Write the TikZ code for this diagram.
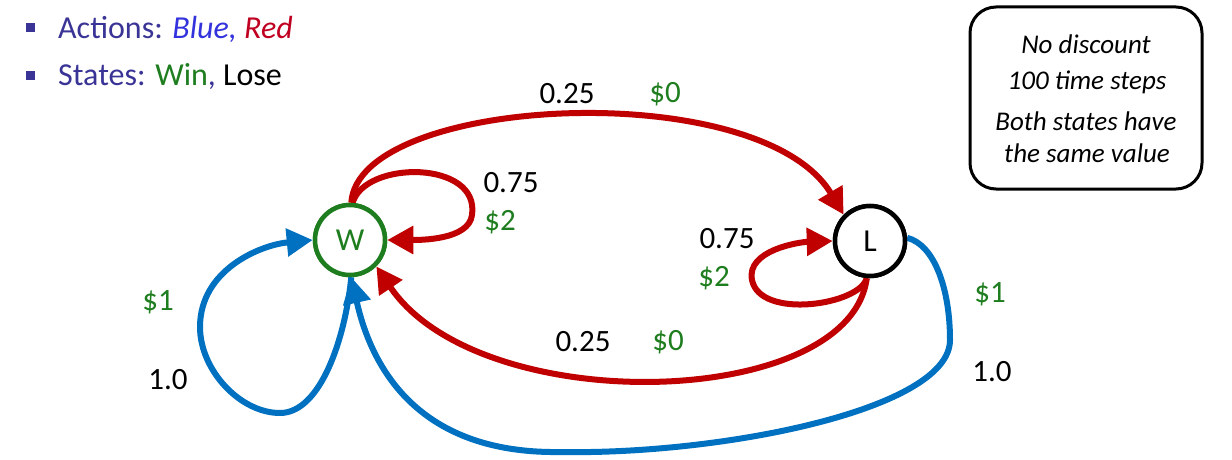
\documentclass[tikz,border=0pt]{standalone}
\usepackage{fontspec}
\setmainfont{Carlito}
\usetikzlibrary{arrows.meta}
\definecolor{rd}{RGB}{192,0,0}
\definecolor{bl}{RGB}{0,112,192}
\definecolor{gr}{RGB}{30,125,30}
\definecolor{pu}{RGB}{58,52,150}
\definecolor{itblue}{RGB}{51,51,221}
\definecolor{itred}{RGB}{192,0,32}
\begin{document}
\begin{tikzpicture}[x=1pt,y=-1pt,
  state/.style={circle, minimum size=70pt, inner sep=0pt, line width=4.5pt, fill=white, font=\fontsize{32}{34}\selectfont},
  lbl/.style={inner sep=0pt, font=\fontsize{31}{33}\selectfont},
  note/.style={inner sep=0pt, font=\fontsize{27}{29}\selectfont\itshape},
  bullettext/.style={inner sep=0pt, anchor=base west, font=\fontsize{32}{34}\selectfont, text=pu},
  redarrow/.style={draw=rd, line width=6pt, -{Triangle[length=26pt,width=27pt]}},
  bluearrow/.style={draw=bl, line width=6pt, -{Triangle[length=26pt,width=27pt]}},
  bulletsq/.style={fill=pu, minimum size=9pt, inner sep=0pt}]
\useasboundingbox (0,0) rectangle (1232,460);

% bullets
\node[bulletsq] (b1) at (30,28) {};
\node[bulletsq] (b2) at (30,76) {};
\node[bullettext] (t1) at (58,39) {Actions: \textcolor{itblue}{\itshape Blue,} \textcolor{itred}{\itshape Red}};
\node[bullettext] (t2) at (58,85) {States: \textcolor{gr}{Win}, \textcolor{black}{Lose}};

% note box
\draw[line width=3pt, rounded corners=26pt] (970,7) rectangle (1202,189);
\node[note] (n1) at (1086,44) {No discount};
\node[note] (n2) at (1087,82) {100 time steps};
\node[note] (n3) at (1086,121) {Both states have};
\node[note] (n4) at (1087,153) {the same value};

% states
\node[state, draw=gr, text=gr] (W) at (350,240) {W};
\node[state, draw=black] (L) at (870,241) {L};

% blue self loop W
\draw[bluearrow] (W.-88) .. controls (345,340) and (320,413) .. (280,413)
  .. controls (240,413) and (200,370) .. (200,327)
  .. controls (200,270) and (260,245) .. (W.west);
% blue L -> W
\draw[bluearrow] (L.5) .. controls (935,245) and (950,290) .. (950,340)
  .. controls (950,410) and (720,455) .. (560,452)
  .. controls (420,454) and (372,370) .. (W.-88);

% red W -> L (top)
\draw[redarrow] (W.88) .. controls (358,95) and (760,75) .. (L.135);
% red self loop W
\draw[redarrow] (W.86) .. controls (365,160) and (480,160) .. (472,215)
  .. controls (469,240) and (420,240) .. (W.east);
% red self loop L
\draw[redarrow] (L.-95) .. controls (860,305) and (760,320) .. (752,280)
  .. controls (746,250) and (800,242) .. (L.west);
% red L -> W (bottom)
\draw[redarrow] (L.-95) .. controls (850,410) and (480,420) .. (W.-45);

% redraw node borders on top
\node[state, draw=gr, text=gr] at (W) {W};
\node[state, draw=black] at (L) {L};

% labels
\node[lbl] (p1) at (567,94) {0.25};
\node[lbl, text=gr] (r1) at (665,94) {\$0};
\node[lbl] (p2) at (511,183) {0.75};
\node[lbl, text=gr] (r2) at (500,222) {\$2};
\node[lbl] (p3) at (727,239) {0.75};
\node[lbl, text=gr] (r3) at (714,278) {\$2};
\node[lbl] (p4) at (583,342) {0.25};
\node[lbl, text=gr] (r4) at (668,342) {\$0};
\node[lbl, text=gr] (r5) at (158,302) {\$1};
\node[lbl] (p5) at (168,380) {1.0};
\node[lbl, text=gr] (r6) at (990,294) {\$1};
\node[lbl] (p6) at (992,372) {1.0};
\end{tikzpicture}
\end{document}
